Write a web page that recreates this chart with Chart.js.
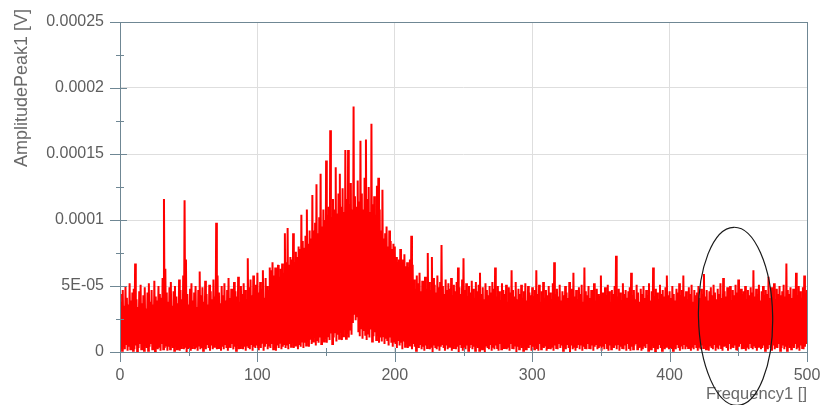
<!DOCTYPE html>
<html>
<head>
<meta charset="utf-8">
<script src="https://cdn.jsdelivr.net/npm/chart.js@4"></script>
<style>
  html, body { margin: 0; padding: 0; background: #fff; }
  #wrap { width: 821px; height: 405px; }
</style>
</head>
<body>
<div id="wrap"><canvas id="spectrum" width="821" height="405"></canvas></div>
<script>
/* ---------- DATA (amplitudes in microvolts) ---------- */
const freqTicks = [0, 100, 200, 300, 400, 500];
const ampTickLabels = ['0', '5E-05', '0.0001', '0.00015', '0.0002', '0.00025'];

// peak tips, one per Hz (0..500)
const ampHigh = [
  44, 38, 47, 35, 50, 41, 36, 52, 39, 45,
  48, 67, 40, 34, 46, 51, 37, 43, 49, 33,
  45, 52, 38, 47, 36, 54, 42, 39, 50, 44,
  41, 56, 116, 63, 45, 38, 49, 53, 35, 46,
  50, 42, 37, 55, 47, 40, 58, 115, 70, 44,
  36, 48, 52, 39, 45, 50, 34, 47, 61, 43,
  49, 38, 54, 44, 36, 51, 46, 40, 55, 42,
  98, 58, 45, 37, 50, 43, 52, 39, 47, 56,
  41, 48, 35, 53, 46, 42, 57, 38, 50, 44,
  52, 47, 40, 71, 49, 55, 43, 58, 46, 51,
  60, 45, 53, 48, 62, 41, 56, 50, 47, 64,
  62, 68, 58, 64, 60, 66, 57, 63, 67, 60,
  90, 68, 94, 66, 72, 70, 90, 68, 76, 72,
  80, 78, 104, 84, 79, 88, 108, 82, 92, 86,
  119, 92, 98, 127, 90, 102, 135, 95, 108, 100,
  145, 104, 110, 168, 102, 116, 108, 140, 105, 120,
  135, 110, 124, 106, 153, 116, 153, 112, 128, 108,
  186, 118, 110, 130, 114, 160, 120, 108, 132, 161,
  116, 125, 106, 173, 112, 118, 104, 126, 132, 108,
  92, 123, 86, 90, 95, 80, 92, 84, 78, 82,
  80, 72, 68, 70, 78, 66, 70, 74, 65, 68,
  64, 70, 88, 66, 55, 48, 58, 52, 60, 46,
  54, 50, 57, 48, 75, 53, 47, 72, 56, 51,
  45, 58, 49, 53, 81, 50, 44, 55, 47, 52,
  48, 56, 43, 51, 46, 53, 64, 49, 44, 55,
  71, 47, 52, 42, 50, 45, 54, 48, 41, 53,
  46, 51, 60, 44, 49, 40, 52, 47, 43, 50,
  45, 53, 48, 64, 42, 50, 46, 39, 52, 47,
  44, 51, 38, 49, 45, 62, 47, 42, 53, 40,
  48, 44, 51, 41, 46, 52, 39, 50, 45, 43,
  49, 42, 47, 62, 44, 51, 38, 46, 53, 41,
  47, 43, 50, 45, 40, 52, 68, 44, 48, 42,
  51, 39, 46, 43, 50, 45, 41, 53, 44, 48,
  60, 42, 47, 40, 49, 44, 51, 38, 64, 46,
  43, 50, 41, 47, 45, 52, 39, 48, 44, 42,
  58, 45, 40, 49, 43, 51, 46, 38, 47, 44,
  50, 73, 42, 48, 45, 39, 52, 44, 47, 41,
  46, 49, 60, 43, 47, 40, 51, 45, 38, 48,
  44, 50, 41, 47, 43, 52, 39, 46, 64, 42,
  48, 45, 40, 51, 44, 47, 42, 49, 58, 43,
  46, 41, 50, 44, 39, 48, 45, 52, 43, 47,
  58, 42, 46, 40, 49, 44, 51, 38, 47, 43,
  45, 50, 41, 48, 44, 59, 42, 47, 39, 46,
  49, 43, 51, 45, 40, 48, 44, 52, 41, 56,
  46, 42, 49, 44, 50, 39, 47, 43, 51, 45,
  55, 41, 48, 44, 46, 50, 40, 47, 43, 49,
  45, 62, 42, 48, 44, 51, 39, 46, 50, 43,
  47, 44, 57, 41, 49, 45, 52, 40, 48, 44,
  50, 43, 46, 51, 42, 67, 47, 44, 49, 41,
  48, 45, 60, 43, 50, 46, 41, 49, 58, 44,
  47
];

// troughs between the tips, at f + 0.5 Hz (0..499)
const ampLow = [
  3, 1, 5, 2, 6, 1, 4, 2, 7, 1,
  2, 5, 0, 3, 6, 2, 4, 1, 5, 3,
  1, 4, 6, 2, 3, 0, 5, 2, 4, 1,
  6, 2, 3, 5, 1, 4, 2, 7, 3, 1,
  4, 2, 5, 1, 3, 6, 2, 4, 0, 3,
  5, 1, 3, 6, 2, 4, 1, 5, 2, 3,
  1, 4, 2, 6, 3, 1, 5, 2, 4, 7,
  2, 3, 5, 1, 4, 2, 6, 3, 1, 4,
  3, 6, 2, 4, 1, 5, 2, 3, 7, 2,
  4, 1, 5, 3, 2, 6, 1, 4, 3, 5,
  2, 5, 3, 7, 1, 4, 6, 2, 5, 3,
  6, 2, 4, 1, 5, 3, 7, 2, 4, 6,
  3, 5, 2, 6, 4, 8, 3, 5, 7, 2,
  6, 4, 8, 3, 7, 5, 9, 4, 10, 6,
  8, 12, 5, 9, 7, 11, 6, 13, 8, 10,
  7, 12, 9, 14, 6, 11, 15, 8, 13, 10,
  16, 9, 12, 18, 10, 14, 11, 17, 13, 22,
  29, 24, 27, 15, 12, 18, 10, 16, 13, 9,
  14, 11, 17, 8, 12, 15, 9, 13, 7, 11,
  8, 12, 6, 10, 9, 5, 11, 7, 4, 8,
  6, 3, 9, 5, 7, 2, 8, 4, 6, 3,
  5, 8, 2, 6, 4, 1, 5, 3, 6, 2,
  4, 1, 5, 3, 6, 2, 4, 0, 5, 3,
  2, 5, 1, 4, 6, 3, 1, 5, 2, 4,
  6, 1, 3, 5, 2, 4, 0, 6, 3, 1,
  4, 2, 5, 1, 3, 6, 2, 4, 1, 5,
  3, 1, 6, 2, 4, 0, 5, 3, 2, 6,
  1, 4, 2, 5, 3, 1, 6, 2, 4, 3,
  5, 2, 4, 1, 6, 3, 2, 5, 0, 4,
  2, 6, 3, 1, 5, 2, 4, 3, 6, 1,
  4, 2, 5, 3, 1, 6, 2, 4, 3, 5,
  1, 3, 6, 2, 4, 1, 5, 3, 2, 6,
  3, 5, 1, 4, 2, 6, 3, 0, 5, 2,
  4, 1, 3, 6, 2, 5, 1, 4, 3, 2,
  6, 3, 2, 5, 1, 4, 6, 2, 3, 5,
  1, 4, 2, 6, 3, 1, 5, 2, 4, 3,
  5, 2, 6, 1, 4, 3, 2, 5, 1, 6,
  3, 1, 4, 2, 5, 6, 2, 3, 4, 1,
  2, 5, 3, 6, 1, 4, 2, 5, 3, 0,
  4, 2, 6, 3, 1, 5, 2, 4, 6, 2,
  3, 5, 1, 4, 2, 6, 3, 1, 5, 2,
  6, 2, 4, 3, 5, 1, 4, 2, 6, 3,
  1, 4, 2, 5, 3, 6, 2, 4, 1, 5,
  3, 2, 6, 1, 4, 2, 5, 3, 1, 4,
  5, 3, 1, 6, 2, 4, 3, 5, 2, 1,
  4, 6, 2, 3, 5, 1, 4, 2, 6, 3,
  2, 5, 3, 1, 4, 6, 2, 3, 5, 1,
  4, 2, 6, 3, 1, 5, 2, 4, 3, 6,
  1, 3, 5, 2, 4, 1, 6, 3, 2, 5,
  3, 6, 2, 4, 1, 5, 3, 2, 4, 6
];

// hand-drawn ellipse mark (frequency / amplitude units)
const markCenterHz = 448;
const markCenterUV = 27;
const markHalfWidthHz = 27;
const markHalfHeightUV = 67.5;

const MICRO = 1e-6;
const FRAME = '#6f8794';
const TEXT = '#5e5e5e';
const FONT = '"Liberation Sans", Arial, sans-serif';

/* ---------- BUILD POINTS ---------- */
const points = [];
ampHigh.forEach((v, f) => {
  points.push({ x: f, y: v * MICRO });
  if (f < ampLow.length) points.push({ x: f + 0.5, y: ampLow[f] * MICRO });
});

/* ---------- FRAME / TICKS / TITLES ---------- */
const framePlugin = {
  id: 'frame',
  afterDraw(chart) {
    const { ctx, chartArea: a, scales: { x, y } } = chart;
    ctx.save();
    ctx.strokeStyle = FRAME;
    ctx.lineWidth = 1;
    ctx.strokeRect(Math.round(a.left) + 0.5, Math.round(a.top) + 0.5,
      Math.round(a.right - a.left), Math.round(a.bottom - a.top));

    // cross ticks, long outside on major ones
    ctx.beginPath();
    x.ticks.forEach((t, i) => {
      const px = Math.round(x.getPixelForValue(t.value)) + 0.5;
      const out = i % 2 ? 4 : 10;
      ctx.moveTo(px, a.bottom - 4);
      ctx.lineTo(px, a.bottom + out);
    });
    y.ticks.forEach((t, i) => {
      const py = Math.round(y.getPixelForValue(t.value)) + 0.5;
      const out = i % 2 ? 4 : 10;
      ctx.moveTo(a.left - out, py);
      ctx.lineTo(a.left + (i % 2 ? 4 : 7), py);
    });
    ctx.stroke();

    // axis titles
    ctx.fillStyle = '#6a6a6a';
    ctx.font = '16.5px ' + FONT;
    ctx.textAlign = 'right';
    ctx.textBaseline = 'alphabetic';
    ctx.fillText('Frequency1 []', a.right, 399);
    ctx.font = '18px ' + FONT;
    ctx.translate(27, 9);
    ctx.rotate(-Math.PI / 2);
    ctx.fillText('AmplitudePeak1 [V]', 0, 0);
    ctx.restore();

    // ellipse mark
    const cx = x.getPixelForValue(markCenterHz);
    const cy = y.getPixelForValue(markCenterUV * MICRO);
    const rx = x.getPixelForValue(markCenterHz + markHalfWidthHz) - cx;
    const ry = cy - y.getPixelForValue((markCenterUV + markHalfHeightUV) * MICRO);
    ctx.save();
    ctx.strokeStyle = '#1a1a1a';
    ctx.lineWidth = 1.2;
    ctx.beginPath();
    ctx.ellipse(cx, cy, rx, ry, -0.02, 0, Math.PI * 2);
    ctx.stroke();
    ctx.restore();
  }
};

/* ---------- CHART ---------- */
new Chart(document.getElementById('spectrum'), {
  type: 'line',
  data: {
    datasets: [{
      data: points,
      borderColor: '#ff0000',
      borderWidth: 2,
      pointRadius: 0,
      tension: 0,
      fill: false
    }]
  },
  options: {
    responsive: false,
    animation: false,
    events: [],
    layout: { padding: { top: 22, right: 14, left: 0, bottom: 0 } },
    plugins: { legend: { display: false }, tooltip: { enabled: false } },
    scales: {
      x: {
        type: 'linear',
        min: 0,
        max: 500,
        afterFit: s => { s.height = 53; s.paddingLeft = 0; s.paddingRight = 0; },
        border: { display: false },
        grid: {
          drawTicks: false,
          color: c => (c.index % 2 ? 'rgba(0,0,0,0)' : '#dedede')
        },
        ticks: {
          stepSize: 50,
          autoSkip: false,
          maxRotation: 0,
          padding: 14,
          color: TEXT,
          font: { family: FONT, size: 16 },
          callback: (v, i) => (i % 2 ? '' : String(freqTicks[i / 2]))
        }
      },
      y: {
        min: 0,
        max: 0.00025,
        afterFit: s => { s.width = 120; s.paddingTop = 0; s.paddingBottom = 0; },
        border: { display: false },
        grid: {
          drawTicks: false,
          color: c => (c.index % 2 ? 'rgba(0,0,0,0)' : '#dedede')
        },
        ticks: {
          stepSize: 0.000025,
          autoSkip: false,
          padding: 16,
          color: TEXT,
          font: { family: FONT, size: 16 },
          callback: (v, i) => (i % 2 ? '' : ampTickLabels[i / 2])
        }
      }
    }
  },
  plugins: [framePlugin]
});
</script>
</body>
</html>
